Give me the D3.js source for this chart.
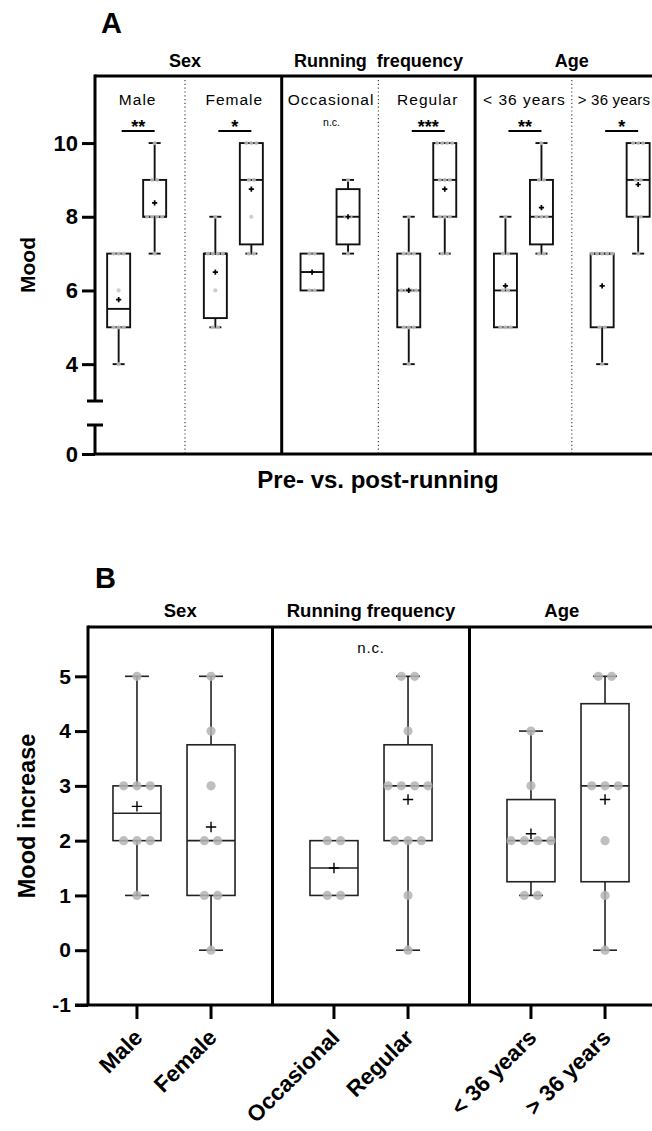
<!DOCTYPE html>
<html>
<head>
<meta charset="utf-8">
<script src="https://cdn.jsdelivr.net/npm/d3@7"></script>
<style>
  body { margin: 0; background: #fff; }
  svg { display: block; font-family: "Liberation Sans", Arial, Helvetica, sans-serif; }
</style>
</head>
<body>
<div id="chart"></div>
<script>
(function Moods() {
  /* global d3 */

  // group headers and subgroups (same for both panels)
  var groupsA = ["Sex", "Running  frequency", "Age"];
  var groupsB = ["Sex", "Running frequency", "Age"];
  var subgroups = ["Male", "Female", "Occasional", "Regular", "< 36 years", "> 36 years"];
  var starsA = ["**", "*", "n.c.", "***", "**", "*"];

  // panel A: mood score before the run, one array per subgroup
  var moodPre = [
    [4, 5, 5, 5, 6, 7, 7, 7],
    [5, 5, 6, 7, 7, 7, 7, 8],
    [6, 6, 7, 7],
    [4, 5, 5, 5, 6, 6, 6, 6, 7, 7, 7, 8],
    [5, 5, 5, 6, 6, 7, 7, 8],
    [4, 5, 5, 7, 7, 7, 7, 7]
  ];
  // panel A: mood score after the run
  var moodPost = [
    [7, 8, 8, 8, 8, 9, 9, 10],
    [7, 7, 8, 9, 9, 10, 10, 10],
    [7, 8, 8, 9],
    [7, 7, 8, 8, 8, 9, 9, 9, 10, 10, 10, 10],
    [7, 7, 8, 8, 8, 9, 9, 10],
    [7, 8, 8, 9, 9, 10, 10, 10]
  ];
  // panel B: mood increase
  var moodIncrease = [
    [1, 2, 2, 2, 3, 3, 3, 5],
    [0, 1, 1, 2, 2, 3, 4, 5],
    [1, 1, 2, 2],
    [0, 1, 2, 2, 2, 3, 3, 3, 3, 4, 5, 5],
    [1, 1, 2, 2, 2, 2, 3, 4],
    [0, 1, 2, 3, 3, 3, 5, 5]
  ];

  var ticksA = [4, 6, 8, 10];
  var ticksB = [-1, 0, 1, 2, 3, 4, 5];

  var width = 652, height = 1131;

  var svg = d3.select("#chart").append("svg")
    .attr("width", width)
    .attr("height", height);
  svg.append("rect").attr("width", width).attr("height", height).attr("fill", "#fff");

  // quartiles the way GraphPad does it: position p*(n+1)
  function quart(s, p) {
    var pos = p * (s.length + 1), lo = Math.floor(pos);
    if (lo < 1) return s[0];
    if (lo >= s.length) return s[s.length - 1];
    return s[lo - 1] + (pos - lo) * (s[lo] - s[lo - 1]);
  }

  function drawBox(g, cx, y, values, o) {
    var s = values.slice().sort(d3.ascending);
    var q1 = quart(s, 0.25), med = quart(s, 0.5), q3 = quart(s, 0.75);
    var lo = s[0], hi = s[s.length - 1], mean = d3.mean(s);
    var b = g.append("g").attr("stroke", o.color).attr("fill", "none")
      .attr("stroke-width", o.lw);
    // whiskers
    if (hi > q3) {
      b.append("line").attr("x1", cx).attr("x2", cx).attr("y1", y(q3)).attr("y2", y(hi));
      b.append("line").attr("x1", cx - o.cap / 2).attr("x2", cx + o.cap / 2).attr("y1", y(hi)).attr("y2", y(hi));
    }
    if (lo < q1) {
      b.append("line").attr("x1", cx).attr("x2", cx).attr("y1", y(q1)).attr("y2", y(lo));
      b.append("line").attr("x1", cx - o.cap / 2).attr("x2", cx + o.cap / 2).attr("y1", y(lo)).attr("y2", y(lo));
    }
    b.append("rect")
      .attr("x", cx - o.w / 2).attr("width", o.w)
      .attr("y", y(q3)).attr("height", y(q1) - y(q3));
    b.append("line").attr("x1", cx - o.w / 2).attr("x2", cx + o.w / 2).attr("y1", y(med)).attr("y2", y(med));

    // individual points, spread sideways when they share a value
    var counts = d3.rollups(s, function (v) { return v.length; }, function (d) { return d; });
    var pts = [];
    counts.forEach(function (c) {
      for (var i = 0; i < c[1]; i++) pts.push({ v: c[0], dx: (i - (c[1] - 1) / 2) * o.gap });
    });
    g.append("g").selectAll("circle").data(pts).enter().append("circle")
      .attr("cx", function (d) { return cx + d.dx; })
      .attr("cy", function (d) { return y(d.v); })
      .attr("r", o.r)
      .attr("fill", o.dot)
      .attr("fill-opacity", 0.85);

    // mean
    var my = y(mean);
    g.append("path")
      .attr("d", "M" + (cx - o.plus) + "," + my + "H" + (cx + o.plus) + "M" + cx + "," + (my - o.plus) + "V" + (my + o.plus))
      .attr("stroke", "#000").attr("stroke-width", o.plusW);
  }

  /* ---------------- Panel A ---------------- */
  var A = svg.append("g");
  var topA = 76, leftA = 95, baseA = 454;

  var xSubA = d3.scaleBand().domain(subgroups).range([88.3, 668.5]);
  var xInA = d3.scalePoint().domain(["pre", "post"]).range([0, xSubA.bandwidth()]).padding(0.843);
  var yUp = d3.scaleLinear().domain([3, 11.82]).range([401, topA]);
  var yLow = d3.scaleLinear().domain([0, 0.8]).range([baseA, 425]);

  A.append("text").attr("x", 101).attr("y", 33)
    .attr("font-size", 29).attr("font-weight", "bold").text("A");

  // group headers, centred on the dotted separators
  A.selectAll(".hdr").data(groupsA).enter().append("text")
    .attr("class", "hdr")
    .attr("x", function (d, i) { return xSubA(subgroups[i * 2 + 1]); })
    .attr("y", 67)
    .attr("text-anchor", "middle")
    .attr("font-size", 18).attr("font-weight", "bold")
    .style("white-space", "pre")
    .text(function (d) { return d; });

  // dotted separators inside groups
  A.selectAll(".dots").data([1, 3, 5]).enter().append("line")
    .attr("x1", function (i) { return xSubA(subgroups[i]); })
    .attr("x2", function (i) { return xSubA(subgroups[i]); })
    .attr("y1", topA + 4).attr("y2", baseA)
    .attr("stroke", "#444").attr("stroke-width", 1.2).attr("stroke-dasharray", "1.2,2.6");

  // subgroup labels (the last one squeezed so it stays inside the page)
  A.selectAll(".sub").data(subgroups).enter().append("text")
    .attr("x", function (d, i) { return i === 5 ? xSubA(d) + 6 : xSubA(d) + xSubA.bandwidth() / 2 + 1; })
    .attr("y", 105)
    .attr("text-anchor", function (d, i) { return i === 5 ? "start" : "middle"; })
    .attr("font-size", function (d, i) { return i === 5 ? 15 : 15.5; })
    .attr("letter-spacing", function (d, i) { return i === 5 ? 0.2 : 1; })
    .text(function (d) { return d; });

  starsA.forEach(function (s, i) {
    var c = xSubA(subgroups[i]) + xSubA.bandwidth() / 2 + 1.5;
    if (s === "n.c.") {
      A.append("text").attr("x", c).attr("y", 126).attr("text-anchor", "middle")
        .attr("font-size", 10.5).text(s);
      return;
    }
    A.append("line").attr("x1", c - 16.5).attr("x2", c + 16.5).attr("y1", 131).attr("y2", 131)
      .attr("stroke", "#000").attr("stroke-width", 1.8);
    A.append("text").attr("x", c).attr("y", 133).attr("text-anchor", "middle")
      .attr("font-size", 18).attr("font-weight", "bold").text(s);
  });

  // boxes
  subgroups.forEach(function (sg, i) {
    var optsA = { w: 23, cap: 12, lw: 1.9, color: "#111", r: 2.1, gap: 5, dot: "#c4c4c4", plus: 2.6, plusW: 1.7 };
    drawBox(A, xSubA(sg) + xInA("pre"), yUp, moodPre[i], optsA);
    drawBox(A, xSubA(sg) + xInA("post"), yUp, moodPost[i], optsA);
  });

  // frame: top, thick separators, bottom axis
  A.append("line").attr("x1", leftA).attr("x2", width).attr("y1", topA).attr("y2", topA)
    .attr("stroke", "#000").attr("stroke-width", 3);
  A.selectAll(".sep").data([2, 4]).enter().append("line")
    .attr("x1", function (i) { return xSubA(subgroups[i]); })
    .attr("x2", function (i) { return xSubA(subgroups[i]); })
    .attr("y1", topA).attr("y2", baseA)
    .attr("stroke", "#000").attr("stroke-width", 3);
  A.append("line").attr("x1", leftA).attr("x2", width).attr("y1", baseA).attr("y2", baseA)
    .attr("stroke", "#000").attr("stroke-width", 3);

  // broken y axis
  A.append("line").attr("x1", leftA).attr("x2", leftA).attr("y1", topA - 1.5).attr("y2", yUp(3))
    .attr("stroke", "#000").attr("stroke-width", 3);
  A.append("line").attr("x1", leftA).attr("x2", leftA).attr("y1", yLow(0.8)).attr("y2", baseA)
    .attr("stroke", "#000").attr("stroke-width", 3);
  [yUp(3), yLow(0.8)].forEach(function (yy) {
    A.append("line").attr("x1", leftA - 8).attr("x2", leftA + 8).attr("y1", yy).attr("y2", yy)
      .attr("stroke", "#000").attr("stroke-width", 3);
  });

  function styleAxis(g, fs) {
    g.select(".domain").remove();
    g.selectAll(".tick line").attr("stroke", "#000").attr("stroke-width", 3);
    g.selectAll(".tick text").attr("font-size", fs).attr("font-weight", "bold")
      .attr("font-family", "Liberation Sans, Arial, sans-serif").attr("fill", "#000");
  }

  A.append("g").attr("transform", "translate(" + leftA + ",0)")
    .call(d3.axisLeft(yUp).tickValues(ticksA).tickSize(13).tickPadding(4).tickFormat(function (d) { return String(d); }))
    .call(styleAxis, 22);
  A.append("g").attr("transform", "translate(" + leftA + ",0)")
    .call(d3.axisLeft(yLow).tickValues([0]).tickSize(13).tickPadding(4).tickFormat(function (d) { return String(d); }))
    .call(styleAxis, 22);

  A.append("text")
    .attr("transform", "translate(35," + (topA + baseA) / 2 + ") rotate(-90)")
    .attr("text-anchor", "middle").attr("font-size", 21).attr("font-weight", "bold").text("Mood");
  A.append("text").attr("x", 378).attr("y", 488).attr("text-anchor", "middle")
    .attr("font-size", 24).attr("font-weight", "bold").text("Pre- vs. post-running");

  /* ---------------- Panel B ---------------- */
  var B = svg.append("g");
  var topB = 627, leftB = 88;

  var xGrpB = d3.scaleBand().domain(groupsB).range([75.5, 666.5]);
  var xInB = d3.scalePoint().domain([0, 1]).range([0, xGrpB.bandwidth()]).padding(0.83);
  var yB = d3.scaleLinear().domain([-1, 5.9]).range([1005, topB]);
  var baseB = yB(-1);
  function xB(i) { return xGrpB(groupsB[Math.floor(i / 2)]) + xInB(i % 2); }

  B.append("text").attr("x", 95).attr("y", 588)
    .attr("font-size", 29).attr("font-weight", "bold").text("B");

  var edgesB = [leftB, xGrpB(groupsB[1]), xGrpB(groupsB[2]), 666.5 - (leftB - 75.5)];
  B.selectAll(".hdr").data(groupsB).enter().append("text")
    .attr("x", function (d, i) { return (edgesB[i] + edgesB[i + 1]) / 2; })
    .attr("y", 617)
    .attr("text-anchor", "middle")
    .attr("font-size", 18.5).attr("font-weight", "bold")
    .text(function (d) { return d; });

  B.append("text").attr("x", xGrpB(groupsB[1]) + xGrpB.bandwidth() / 2).attr("y", 653)
    .attr("text-anchor", "middle").attr("font-size", 15).attr("letter-spacing", 0.8).text("n.c.");

  subgroups.forEach(function (sg, i) {
    drawBox(B, xB(i), yB, moodIncrease[i],
      { w: 48, cap: 24, lw: 1.6, color: "#222", r: 4.6, gap: 13.3, dot: "#b4b4b4", plus: 5.2, plusW: 1.4 });
  });

  B.append("line").attr("x1", leftB).attr("x2", width).attr("y1", topB).attr("y2", topB)
    .attr("stroke", "#000").attr("stroke-width", 3);
  B.selectAll(".sep").data([1, 2]).enter().append("line")
    .attr("x1", function (i) { return xGrpB(groupsB[i]); })
    .attr("x2", function (i) { return xGrpB(groupsB[i]); })
    .attr("y1", topB).attr("y2", baseB)
    .attr("stroke", "#000").attr("stroke-width", 3);
  B.append("line").attr("x1", leftB).attr("x2", leftB).attr("y1", topB - 1.5).attr("y2", baseB)
    .attr("stroke", "#000").attr("stroke-width", 3);
  B.append("line").attr("x1", leftB - 13).attr("x2", width).attr("y1", baseB).attr("y2", baseB)
    .attr("stroke", "#000").attr("stroke-width", 3);

  B.append("g").attr("transform", "translate(" + leftB + ",0)")
    .call(d3.axisLeft(yB).tickValues(ticksB).tickSize(13).tickPadding(4).tickFormat(function (d) { return String(d); }))
    .call(styleAxis, 21);

  // category ticks and rotated labels
  subgroups.forEach(function (sg, i) {
    var x = xB(i);
    B.append("line").attr("x1", x).attr("x2", x).attr("y1", baseB).attr("y2", baseB + 14)
      .attr("stroke", "#000").attr("stroke-width", 3);
    B.append("text")
      .attr("transform", "translate(" + (x + 7) + "," + (baseB + 34) + ") rotate(-45)")
      .attr("text-anchor", "end").attr("font-size", 22.5).attr("font-weight", "bold").text(sg);
  });

  B.append("text")
    .attr("transform", "translate(35," + (topB + baseB) / 2 + ") rotate(-90)")
    .attr("text-anchor", "middle").attr("font-size", 23.5).attr("font-weight", "bold").text("Mood increase");
})();
</script>
</body>
</html>
